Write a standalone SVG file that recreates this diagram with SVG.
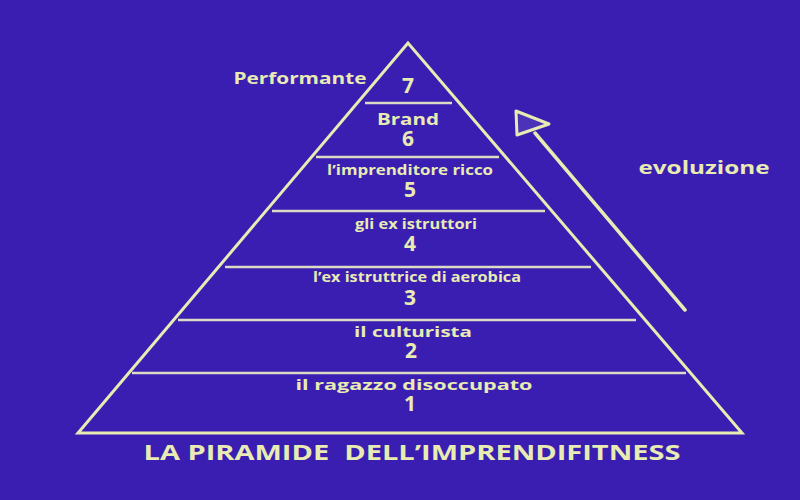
<svg xmlns="http://www.w3.org/2000/svg" width="800" height="500" viewBox="0 0 800 500">
<style>
.t{font-family:"Open Sans","Liberation Sans",sans-serif;font-weight:bold;fill:#e8ebb2;text-anchor:middle}
.lbl{font-size:14px}
.num{font-size:21px}
.tier{stroke:#dcdcc6;stroke-width:2.5}
</style>
<rect width="800" height="500" fill="#3a1eb2"/>
<g id="pyramid">
<polygon points="408,43 78,433 742,433" fill="none" stroke="#e8ebb2" stroke-width="3" stroke-linejoin="miter"/>
</g>
<g id="connectors">
<line class="tier" x1="365" y1="103" x2="452" y2="103"/>
<line class="tier" x1="316" y1="157" x2="499" y2="157"/>
<line class="tier" x1="272" y1="211" x2="545" y2="211"/>
<line class="tier" x1="225" y1="267" x2="591" y2="267"/>
<line class="tier" x1="178" y1="320" x2="636" y2="320"/>
<line class="tier" x1="132" y1="373" x2="686" y2="373"/>
<line x1="685" y1="310" x2="535" y2="133" stroke="#e8ebb2" stroke-width="3.5" stroke-linecap="round"/>
<polygon points="516,111 549,124 517,135" fill="#4a33b8" stroke="#e8ebb2" stroke-width="3" stroke-linejoin="round"/>
</g>
<g id="tier7">
<text class="t" x="300" y="84" font-size="16" textLength="133" lengthAdjust="spacingAndGlyphs">Performante</text>
<text class="t num" x="408" y="93">7</text>
</g>
<g id="tier6">
<text class="t" font-size="16"><tspan x="408" y="125" textLength="62" lengthAdjust="spacingAndGlyphs">Brand</tspan><tspan class="num" x="408" y="146">6</tspan></text>
</g>
<g id="tier5">
<text class="t"><tspan class="lbl" x="410" y="175" textLength="166" lengthAdjust="spacingAndGlyphs">l’imprenditore ricco</tspan><tspan class="num" x="410" y="197">5</tspan></text>
</g>
<g id="tier4">
<text class="t"><tspan class="lbl" x="416" y="229" textLength="122" lengthAdjust="spacingAndGlyphs">gli ex istruttori</tspan><tspan class="num" x="410" y="251">4</tspan></text>
</g>
<g id="tier3">
<text class="t"><tspan class="lbl" x="417" y="282" textLength="208" lengthAdjust="spacingAndGlyphs">l’ex istruttrice di aerobica</tspan><tspan class="num" x="410" y="305">3</tspan></text>
</g>
<g id="tier2">
<text class="t"><tspan class="lbl" x="413" y="337" textLength="118" lengthAdjust="spacingAndGlyphs">il culturista</tspan><tspan class="num" x="411" y="358">2</tspan></text>
</g>
<g id="tier1">
<text class="t"><tspan class="lbl" x="414" y="390" textLength="237" lengthAdjust="spacingAndGlyphs">il ragazzo disoccupato</tspan><tspan class="num" x="410" y="411">1</tspan></text>
</g>
<g id="evoluzione">
<text class="t" x="704" y="174" font-size="17" textLength="131" lengthAdjust="spacingAndGlyphs">evoluzione</text>
</g>
<g id="title">
<text class="t" x="412" y="460" font-size="22" textLength="537" lengthAdjust="spacingAndGlyphs">LA PIRAMIDE&#160; DELL’IMPRENDIFITNESS</text>
</g>
</svg>
